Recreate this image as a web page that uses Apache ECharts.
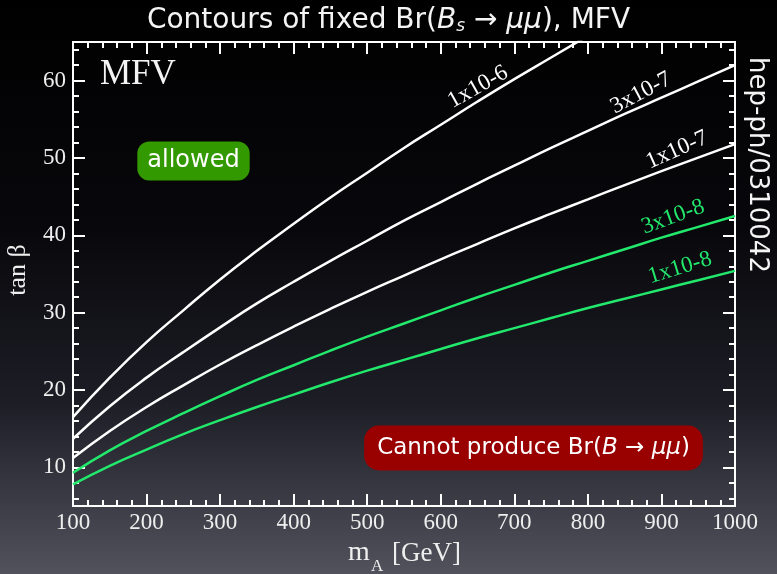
<!DOCTYPE html>
<html>
<head>
<meta charset="utf-8">
<script src="https://cdn.jsdelivr.net/npm/echarts@6/dist/echarts.min.js"></script>
<style>html,body{margin:0;padding:0;background:#000}#c{width:777px;height:574px}</style>
</head>
<body>
<div id="c"></div>
<script>
// ---- data ----
var mA      = [100,150,200,250,300,350,400,450,500,550,600,650,700,750,800,850,900,950,1000];
var br1e6   = [16.5,21.6,26.2,30.3,34.3,38.0,41.5,44.9,48.1,51.3,54.3,57.3,60.2,63.0,65.8,null,null,null,null];
var br3e7   = [13.7,17.9,21.6,24.9,28.1,31.2,34.0,36.7,39.3,41.9,44.3,46.7,49.0,51.3,53.5,55.7,57.8,59.9,62.0];
var br1e7   = [11.2,14.7,17.8,20.6,23.3,25.8,28.2,30.5,32.7,34.8,36.9,38.9,40.9,42.8,44.65,46.5,48.3,50.05,51.8];
var br3e8   = [9.3,12.2,14.7,17.0,19.2,21.3,23.2,25.1,26.9,28.6,30.3,32.0,33.6,35.2,36.7,38.2,39.7,41.1,42.5];
var br1e8   = [7.8,10.2,12.3,14.3,16.1,17.8,19.4,21.0,22.5,23.9,25.3,26.7,28.0,29.3,30.6,31.8,33.0,34.2,35.4];
var curveNames = ['1x10-6','3x10-7','1x10-7','3x10-8','1x10-8'];
var yMajor = [10,20,30,40,50,60];
var yMinor = [6,8,12,14,16,18,22,24,26,28,32,34,36,38,42,44,46,48,52,54,56,58,62,64];

var WHITE = '#ffffff', GREEN = '#22e86c';
function pairs(ys){ return mA.map(function(x,i){ return [x, ys[i]]; }); }

var chart = echarts.init(document.getElementById('c'), null, {renderer:'canvas'});
var serif = 'Liberation Serif';
var sans = 'DejaVu Sans';
var axisLineStyle = {color:'#ffffff', width:2};

function yAx(pos, ticks, len, labels){
  return {
    type:'value', position:pos, min:5, max:65,
    axisLine:{show:true, onZero:false, lineStyle:axisLineStyle},
    axisTick:{show:true, inside:true, length:len, customValues:ticks, lineStyle:{color:'#fff', width:2}},
    axisLabel:{show:labels, customValues:yMajor, color:'#eeeeee', fontFamily:serif, fontSize:23, margin:7},
    splitLine:{show:false}
  };
}
function xAx(pos, labels){
  return {
    type:'value', position:pos, min:100, max:1000, interval:100,
    axisLine:{show:true, onZero:false, lineStyle:axisLineStyle},
    axisTick:{show:true, inside:true, length:12, lineStyle:{color:'#fff', width:2}},
    minorTick:{show:true, splitNumber:5, length:6, lineStyle:{color:'#fff', width:2}},
    axisLabel:{show:labels, color:'#eeeeee', fontFamily:serif, fontSize:23, margin:5,
      formatter:function(v){ return String(v); }},
    splitLine:{show:false}, minorSplitLine:{show:false}
  };
}

var xAxes = [xAx('bottom', true), xAx('top', false)];
var yAxes = [yAx('left', yMajor, 12, true), yAx('left', yMinor, 6, false), yAx('right', yMajor, 12, false), yAx('right', yMinor, 6, false)];

var seriesData = [br1e6, br3e7, br1e7, br3e8, br1e8];
var colors = [WHITE, WHITE, WHITE, GREEN, GREEN];
var series = seriesData.map(function(d, i){
  return {
    name: curveNames[i], type:'line', data: pairs(d), smooth:0.5, showSymbol:false, symbol:'none',
    clip:true, connectNulls:false, xAxisIndex:0, yAxisIndex:0,
    lineStyle:{color:colors[i], width:2.5}, z:5
  };
});

// curve labels: [text, x, y, angle deg, color]
var curveLabels = [
  [curveNames[0], 478, 87, 29.5, WHITE],
  [curveNames[1], 641, 93, 28, WHITE],
  [curveNames[2], 677, 150, 24, WHITE],
  [curveNames[3], 673, 217, 20, GREEN],
  [curveNames[4], 680, 268, 17, GREEN]
];

var graphics = curveLabels.map(function(l){
  return {type:'text', x:l[1], y:l[2], rotation:l[3]*Math.PI/180, z:10,
    style:{text:l[0], fill:l[4], font:'23px "'+serif+'"', align:'center', verticalAlign:'middle'}};
});
graphics.push(
  // axis names
  {type:'text', x:348, y:567, z:10, style:{text:'m', fill:'#eeeeee', font:'28px "'+serif+'"', verticalAlign:'bottom'}},
  {type:'text', x:371, y:575, z:10, style:{text:'A', fill:'#eeeeee', font:'17px "'+serif+'"', verticalAlign:'bottom'}},
  {type:'text', x:392, y:567, z:10, style:{text:'[GeV]', fill:'#eeeeee', font:'27px "'+serif+'"', verticalAlign:'bottom'}},
  {type:'text', x:18, y:270, rotation:Math.PI/2, z:10, style:{text:'tan β', fill:'#eeeeee', font:'26px "'+serif+'"', align:'center', verticalAlign:'middle'}},
  // annotations
  {type:'text', left:100, top:57, z:10, style:{text:'MFV', fill:'#f4f4f4', font:'35px "'+serif+'"'}},
  {type:'text', x:193.5, y:161, z:10, style:{text:'allowed', fill:'#ffffff', font:'24px "'+sans+'"',
    align:'center', verticalAlign:'middle', backgroundColor:'#339900', borderRadius:12, padding:[7,10,8,10]}},
  {type:'text', x:533.5, y:448, z:10, style:{
    rich:{n:{fill:'#fff', font:'23px "'+sans+'"'}, i:{fill:'#fff', font:'italic 23px "'+sans+'"'}},
    text:'{n|Cannot produce Br(}{i|B}{n| → }{i|μμ}{n|)}', align:'center', verticalAlign:'middle',
    backgroundColor:'#990000', borderRadius:15, padding:[11,13,11,13]}},
  {type:'text', x:757, y:165, rotation:-Math.PI/2, z:10, style:{text:'hep-ph/0310042', fill:'#f4f4f4',
    font:'26px "'+sans+'"', align:'center', verticalAlign:'middle'}}
);

var option = {
  animation:false,
  backgroundColor:{type:'linear', x:0, y:0, x2:0, y2:1, colorStops:[
    {offset:0, color:'#000000'}, {offset:0.4, color:'#08080c'}, {offset:0.7, color:'#1d1d26'}, {offset:1, color:'#52525d'}]},
  title:{
    text:'{n|Contours of fixed Br(}{i|B}{s|s}{n| → }{i|μμ}{n|), MFV}',
    left:'center', top:1,
    textStyle:{rich:{
      n:{fontFamily:sans, fontWeight:'normal', fontSize:28, color:'#f4f4f4'},
      i:{fontFamily:sans, fontWeight:'normal', fontStyle:'italic', fontSize:28, color:'#f4f4f4'},
      s:{fontFamily:sans, fontWeight:'normal', fontStyle:'italic', fontSize:17, color:'#f4f4f4', verticalAlign:'bottom', padding:[12,0,0,0]}
    }}
  },
  grid:{left:73, top:42, right:42, bottom:68, containLabel:false, outerBoundsMode:'none'},
  xAxis: xAxes,
  yAxis: yAxes,
  series: series,
  graphic: graphics
};
chart.setOption(option);
</script>
</body>
</html>
